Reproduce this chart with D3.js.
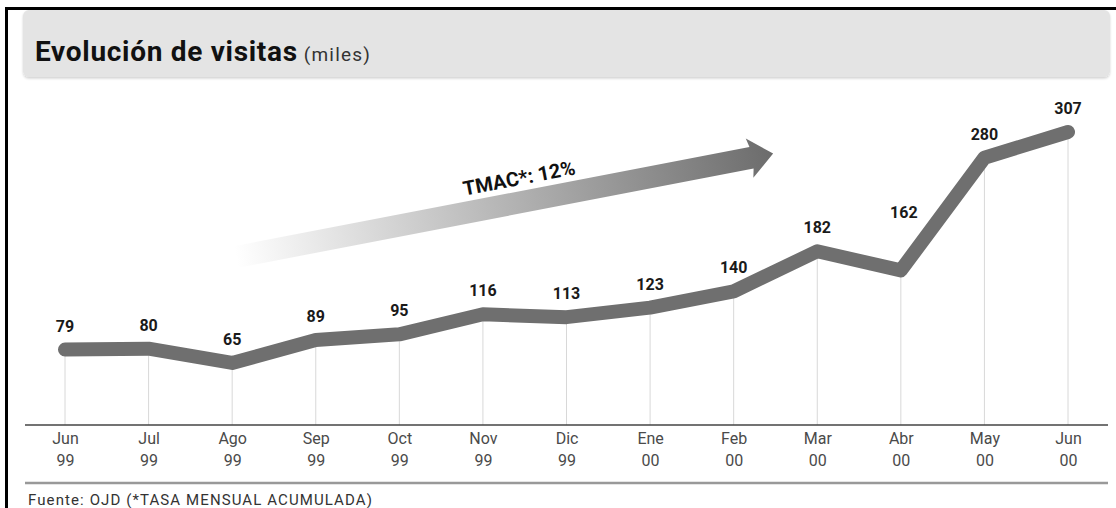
<!DOCTYPE html>
<html>
<head>
<meta charset="utf-8">
<script src="https://cdn.jsdelivr.net/npm/d3@7"></script>
<style>
  body { margin: 0; background: #fff; }
  svg { display: block; font-family: Roboto, "DejaVu Sans", sans-serif; }
</style>
</head>
<body>
<div id="chart"></div>
<script>
// data
const months = ["Jun", "Jul", "Ago", "Sep", "Oct", "Nov", "Dic", "Ene", "Feb", "Mar", "Abr", "May", "Jun"];
const years = ["99", "99", "99", "99", "99", "99", "99", "00", "00", "00", "00", "00", "00"];
const visits = [79, 80, 65, 89, 95, 116, 113, 123, 140, 182, 162, 280, 307];

const title = "Evolución de visitas";
const unit = "(miles)";
const trendLabel = "TMAC*: 12%";
const source = "Fuente: OJD  (*TASA MENSUAL ACUMULADA)";

const width = 1116, height = 508;

const svg = d3.select("#chart").append("svg")
    .attr("width", width)
    .attr("height", height);

// frame (only top and left edges show in the crop)
svg.append("rect").attr("x", 5).attr("y", 7).attr("width", width).attr("height", 3).attr("fill", "#000");
svg.append("rect").attr("x", 5).attr("y", 7).attr("width", 3).attr("height", height).attr("fill", "#000");

// title bar
const defs = svg.append("defs");
const shadow = defs.append("filter").attr("id", "shadow").attr("x", "-5%").attr("y", "-20%").attr("width", "110%").attr("height", "150%");
shadow.append("feDropShadow").attr("dx", 0).attr("dy", 1.5).attr("stdDeviation", 1.2).attr("flood-color", "#000").attr("flood-opacity", 0.18);

svg.append("rect")
    .attr("x", 23).attr("y", 10)
    .attr("width", 1087).attr("height", 67)
    .attr("rx", 6)
    .attr("fill", "#e4e4e4")
    .attr("filter", "url(#shadow)");

const titleText = svg.append("text")
    .attr("x", 35).attr("y", 61)
    .attr("fill", "#111");
titleText.append("tspan")
    .attr("font-size", 28).attr("font-weight", 700)
    .attr("letter-spacing", 0.7)
    .text(title);
titleText.append("tspan")
    .attr("dx", 6)
    .attr("font-size", 19).attr("fill", "#333")
    .attr("letter-spacing", 1.2)
    .text(unit);

// scales
const x = d3.scalePoint()
    .domain(d3.range(visits.length))
    .range([65, 1068]);

const y = d3.scaleLinear()
    .domain([0, 307])
    .range([425, 132]);

// trend arrow
const grad = defs.append("linearGradient")
    .attr("id", "arrowGrad")
    .attr("gradientUnits", "userSpaceOnUse")
    .attr("x1", 0).attr("y1", 0).attr("x2", 547).attr("y2", 0);
grad.append("stop").attr("offset", 0).attr("stop-color", "#ffffff");
grad.append("stop").attr("offset", 0.45).attr("stop-color", "#bcbcbc");
grad.append("stop").attr("offset", 1).attr("stop-color", "#6c6c6c");

const arrow = svg.append("g")
    .attr("transform", "translate(236,257) rotate(-10.9)");
arrow.append("path")
    .attr("d", "M0,-11 L525,-11 L523,-20 L547,0 L523,20 L525,11 L0,11 Z")
    .attr("fill", "url(#arrowGrad)");
arrow.append("text")
    .attr("x", 293).attr("y", -17)
    .attr("text-anchor", "middle")
    .attr("font-size", 20).attr("font-weight", 700)
    .attr("fill", "#111")
    .text(trendLabel);

// vertical guides from each point down to the axis
svg.append("g")
    .selectAll("line")
    .data(visits)
    .join("line")
    .attr("x1", (d, i) => x(i)).attr("x2", (d, i) => x(i))
    .attr("y1", d => y(d)).attr("y2", y(0))
    .attr("stroke", "#d8d8d8")
    .attr("stroke-width", 1);

// baseline axis
const xAxis = d3.axisBottom(x).tickSize(0).tickFormat(() => "");
const axisG = svg.append("g")
    .attr("transform", "translate(0," + y(0) + ")")
    .call(xAxis);
axisG.select(".domain").remove();
axisG.append("line")
    .attr("x1", 25).attr("x2", 1108)
    .attr("stroke", "#444").attr("stroke-width", 1.5);
axisG.selectAll(".tick").each(function (d) {
    const t = d3.select(this).select("text")
        .attr("y", 0).attr("dy", null)
        .attr("fill", "#4a4a4a")
        .attr("font-size", 16)
        .attr("font-family", "Roboto, sans-serif");
    t.append("tspan").attr("x", 0).attr("y", 19).text(months[d]);
    t.append("tspan").attr("x", 0).attr("y", 41).text(years[d]);
});

// line
const line = d3.line()
    .x((d, i) => x(i))
    .y(d => y(d));

svg.append("path")
    .datum(visits)
    .attr("d", line)
    .attr("fill", "none")
    .attr("stroke", "#6f6f6f")
    .attr("stroke-width", 14)
    .attr("stroke-linejoin", "round")
    .attr("stroke-linecap", "round");

// value labels (Abr label sits higher because the line climbs right after it)
const labelDy = (d, i) => (i === 10 ? -52 : -18);
svg.append("g")
    .selectAll("text")
    .data(visits)
    .join("text")
    .attr("x", (d, i) => x(i) + (i === 10 ? 3 : 0))
    .attr("y", (d, i) => y(d) + labelDy(d, i))
    .attr("text-anchor", "middle")
    .attr("font-size", 16).attr("font-weight", 700)
    .attr("fill", "#1a1a1a")
    .text(d => d);

// bottom rule and source
svg.append("line")
    .attr("x1", 25).attr("x2", 1108)
    .attr("y1", 483).attr("y2", 483)
    .attr("stroke", "#999").attr("stroke-width", 2.5);

svg.append("text")
    .attr("x", 28).attr("y", 505)
    .attr("font-size", 15)
    .attr("letter-spacing", 1.1)
    .attr("fill", "#333")
    .text(source);
</script>
</body>
</html>
